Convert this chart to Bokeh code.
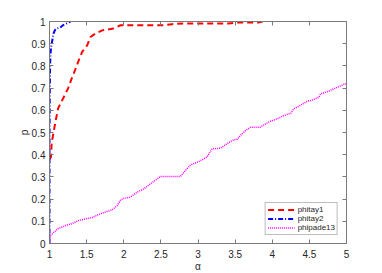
from bokeh.plotting import figure
from bokeh.models import Range1d, FixedTicker, LinearAxis, Legend, LegendItem, CustomJSTickFormatter
from bokeh.embed import file_html
from bokeh.resources import INLINE

# ---- data ----
phitay1_alpha = [1.0, 1.02, 1.03, 1.044, 1.081, 1.117, 1.193, 1.252, 1.306, 1.327, 1.395, 1.44,
                 1.508, 1.552, 1.62, 1.71, 1.86, 1.956, 2.535, 2.65, 2.80, 3.41, 3.53, 3.81, 3.87]
phitay1_rho = [0.38, 0.39, 0.46, 0.48, 0.55, 0.61, 0.66, 0.70, 0.75, 0.766, 0.826, 0.863,
               0.893, 0.93, 0.946, 0.96, 0.968, 0.983, 0.983, 0.988, 0.991, 0.991, 0.995, 0.995, 1.0]

phitay2_alpha = [1.0, 1.0, 1.004, 1.008, 1.013, 1.02, 1.035, 1.054, 1.075, 1.094, 1.14, 1.19,
                 1.22, 1.256, 1.283]
phitay2_rho = [0.0, 0.45, 0.70, 0.80, 0.85, 0.88, 0.91, 0.946, 0.962, 0.968, 0.972, 0.985,
               0.99, 0.995, 1.0]

phipade13_alpha = [1.0, 1.005, 1.013, 1.058, 1.125, 1.171, 1.215, 1.306, 1.395, 1.485, 1.575,
                   1.687, 1.745, 1.844, 1.912, 1.956, 2.0, 2.09, 2.18, 2.27, 2.36, 2.45, 2.495,
                   2.764, 2.83, 2.90, 3.01, 3.12, 3.19, 3.30, 3.39, 3.48, 3.53, 3.57, 3.64, 3.71,
                   3.84, 3.91, 3.98, 4.07, 4.16, 4.25, 4.29, 4.38, 4.47, 4.52, 4.63, 4.65, 4.76,
                   4.83, 4.90, 4.96, 5.0]
phipade13_rho = [0.0, 0.02, 0.036, 0.05, 0.07, 0.074, 0.081, 0.09, 0.104, 0.111, 0.117,
                 0.134, 0.141, 0.152, 0.171, 0.195, 0.203, 0.209, 0.231, 0.246, 0.269, 0.291, 0.302,
                 0.302, 0.329, 0.354, 0.369, 0.389, 0.427, 0.429, 0.449, 0.467, 0.47, 0.486, 0.509, 0.524,
                 0.524, 0.539, 0.551, 0.562, 0.577, 0.587, 0.607, 0.622, 0.641, 0.644, 0.659, 0.674, 0.686,
                 0.697, 0.707, 0.716, 0.72]

x_ticks = [1, 1.5, 2, 2.5, 3, 3.5, 4, 4.5, 5]
x_tick_labels = ["1", "1.5", "2", "2.5", "3", "3.5", "4", "4.5", "5"]
y_ticks = [0, 0.1, 0.2, 0.3, 0.4, 0.5, 0.6, 0.7, 0.8, 0.9, 1]
y_tick_labels = ["0", "0.1", "0.2", "0.3", "0.4", "0.5", "0.6", "0.7", "0.8", "0.9", "1"]

FONT = "Liberation Sans"
AXC = "#7a7a7a"
TXT = "#262626"

p = figure(frame_width=297, frame_height=222, output_backend="svg", toolbar_location=None,
           x_range=Range1d(1, 5), y_range=Range1d(0, 1),
           min_border_left=49, min_border_right=34, min_border_top=21, min_border_bottom=29,
           background_fill_color="white", border_fill_color="white")
p.grid.visible = False
p.outline_line_color = AXC
p.outline_line_width = 1

def style_axis(ax, ticks, labels=None):
    ax.ticker = FixedTicker(ticks=ticks)
    ax.axis_line_color = AXC
    ax.major_tick_line_color = AXC
    ax.minor_tick_line_color = None
    ax.major_tick_in = 4
    ax.major_tick_out = 0
    ax.major_label_text_font = FONT
    ax.major_label_text_font_size = "10px"
    ax.major_label_text_color = TXT
    ax.axis_label_text_font = FONT
    ax.axis_label_text_font_size = "10px"
    ax.axis_label_text_font_style = "normal"
    ax.axis_label_text_color = TXT
    if labels is not None:
        ax.major_label_overrides = {t: l for t, l in zip(ticks, labels)}

style_axis(p.xaxis[0], x_ticks, x_tick_labels)
style_axis(p.yaxis[0], y_ticks, y_tick_labels)
p.xaxis[0].axis_label = "α"
p.yaxis[0].axis_label = "p"
p.xaxis[0].major_label_standoff = 6
p.yaxis[0].major_label_standoff = 4
p.xaxis[0].axis_label_standoff = 0
p.yaxis[0].axis_label_standoff = -1

for loc, ticks in (("above", x_ticks), ("right", y_ticks)):
    ax = LinearAxis()
    style_axis(ax, ticks)
    ax.formatter = CustomJSTickFormatter(code="return ''")
    ax.major_label_standoff = 0
    p.add_layout(ax, loc)

r1 = p.line(phitay1_alpha, phitay1_rho, line_color="#ff0000", line_width=2, line_dash="6 4")
r2 = p.line(phitay2_alpha, phitay2_rho, line_color="#0000ff", line_width=2, line_dash="5 2 1 2")
r3 = p.line(phipade13_alpha, phipade13_rho, line_color="#ff00ff", line_width=1.5, line_dash="1 1")

legend = Legend(items=[LegendItem(label="phitay1", renderers=[r1]),
                       LegendItem(label="phitay2", renderers=[r2]),
                       LegendItem(label="phipade13", renderers=[r3])],
                location="bottom_right")
legend.margin = 8
legend.padding = 2
legend.spacing = 0
legend.glyph_width = 27
legend.glyph_height = 9
legend.label_height = 9
legend.label_width = 10
legend.label_standoff = 3
legend.label_text_font = FONT
legend.label_text_font_size = "8px"
legend.label_text_color = TXT
legend.border_line_color = AXC
legend.border_line_width = 1
legend.background_fill_color = "white"
legend.background_fill_alpha = 1
p.add_layout(legend)

open("out.html", "w").write(file_html(p, INLINE))
